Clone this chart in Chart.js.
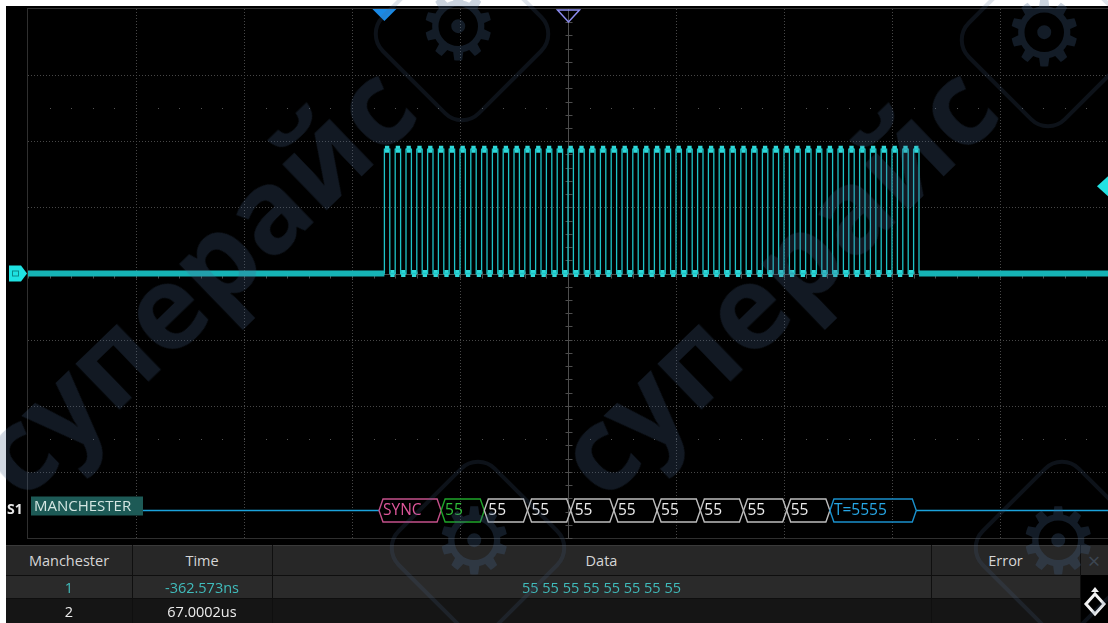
<!DOCTYPE html>
<html>
<head>
<meta charset="utf-8">
<script src="https://cdn.jsdelivr.net/npm/chart.js@4.4.1/dist/chart.umd.min.js"></script>
<style>
  html, body { margin:0; padding:0; background:#fff; width:1108px; height:623px; overflow:hidden;
    font-family:"Open Sans","Noto Sans","DejaVu Sans",sans-serif; }
  #scope { position:absolute; left:6px; top:6px; width:1102px; height:617px; background:#000; }
  #c { position:absolute; left:0; top:0; }
  .cell { position:absolute; box-sizing:border-box; font-size:14.5px; display:flex; align-items:center; justify-content:center; white-space:nowrap; }
  .wm { position:absolute; font-weight:700; color:rgba(70,100,140,0.25); white-space:nowrap; pointer-events:none;
        transform-origin:center center; line-height:1; }
  .gear { position:absolute; pointer-events:none; box-sizing:border-box; border:4px solid rgba(70,100,140,0.18);
          border-radius:26px; transform:rotate(45deg); }
  .gearg { position:absolute; pointer-events:none; color:rgba(70,100,140,0.28); line-height:1; font-family:"DejaVu Sans",sans-serif; }
</style>
</head>
<body>
<div id="scope"></div>
<canvas id="c" width="1108" height="623"></canvas>
<div id="table"></div>
<div id="wmLayer"></div>
<script>
// ---------------- data ----------------
const timeRangeNs = [-1000, 1000];          // 200 ns/div, 10 divisions
const voltRangeDiv = [-4, 4];               // 8 vertical divisions
const gridStepNs = 200;
const idleLevel = 0;
const highLevel = 1.88;
const burstStartNs = -340;
const bitCellNs = 10;
const burstBits = "1010101010" + "1010101010" + "1010101010" + "1010101010" + "1010101010" +
                  "1010101010" + "1010101010" + "1010101010" + "1010101010" + "101010101";
const triggerPosNs = -340;
const triggerLevelDiv = 1.32;
const channelOffsetDiv = 0;
const busLevelDiv = -3.57;

const frameLabels = ["SYNC", "55", "55", "55", "55", "55", "55", "55", "55", "55", "T=5555"];
const frameKinds  = ["sync", "first", "data", "data", "data", "data", "data", "data", "data", "data", "crc"];
const frameEdgesNs = [-350, -235, -155, -75, 5, 85, 165, 245, 325, 405, 485, 645];

const tableHeaders = ["Manchester", "Time", "Data", "Error"];
const tableRows = [
  ["1", "-362.573ns", "55 55 55 55 55 55 55 55", ""],
  ["2", "67.0002us", "", ""]
];

// ---------------- derived datasets ----------------
const burstEndNs = burstStartNs + burstBits.length * bitCellNs;
const idlePoints = [
  {x: timeRangeNs[0], y: idleLevel}, {x: burstStartNs, y: idleLevel},
  {x: (burstStartNs + burstEndNs) / 2, y: null},
  {x: burstEndNs, y: idleLevel}, {x: timeRangeNs[1], y: idleLevel}
];
const edgePoints = [{x: burstStartNs, y: idleLevel}];
const plateauPoints = [];
for (let i = 0; i < burstBits.length; i++) {
  const lv = burstBits[i] === "1" ? highLevel : idleLevel;
  const a = burstStartNs + i * bitCellNs, b = a + bitCellNs;
  edgePoints.push({x: a, y: lv}, {x: b, y: lv});
  plateauPoints.push({x: a + 1, y: lv}, {x: b - 1, y: lv}, {x: b, y: null});
}
edgePoints.push({x: burstEndNs, y: idleLevel});

// ---------------- plugins ----------------
function dotted(ctx, x0, y0, x1, y1, step, color) {
  ctx.fillStyle = color;
  if (x0 === x1) { for (let y = y0; y <= y1; y += step) ctx.fillRect(Math.round(x0), Math.round(y), 1, 1); }
  else { for (let x = x0; x <= x1; x += step) ctx.fillRect(Math.round(x), Math.round(y0), 1, 1); }
}

const gridPlugin = {
  id: "scopeGrid",
  beforeDatasetsDraw(chart) {
    const {ctx, chartArea: a, scales: {x, y}} = chart;
    ctx.save();
    ctx.strokeStyle = "#2f2f2f"; ctx.lineWidth = 1;
    ctx.strokeRect(a.left - 0.5, a.top - 0.5, a.right - a.left + 1, a.bottom - a.top + 1);
    for (let t = timeRangeNs[0] + gridStepNs; t < timeRangeNs[1]; t += gridStepNs) {
      if (t === 0) continue;
      dotted(ctx, x.getPixelForValue(t), a.top, x.getPixelForValue(t), a.bottom, 3, "#474747");
    }
    for (let v = voltRangeDiv[0] + 1; v < voltRangeDiv[1]; v++) {
      if (v === 0) continue;
      dotted(ctx, a.left, y.getPixelForValue(v), a.right, y.getPixelForValue(v), 3, "#474747");
    }
    [2.5, -2.5].forEach(v => {
      const py = y.getPixelForValue(v);
      ctx.fillStyle = "#555";
      for (let t = timeRangeNs[0] + gridStepNs / 5; t < timeRangeNs[1]; t += gridStepNs / 5)
        ctx.fillRect(Math.round(x.getPixelForValue(t)), Math.round(py), 1, 1);
    });
    const cx = Math.round(x.getPixelForValue(0)) + 0.5, cy = Math.round(y.getPixelForValue(0)) + 0.5;
    ctx.strokeStyle = "#4d4d4d"; ctx.lineWidth = 1;
    ctx.beginPath(); ctx.moveTo(cx, a.top); ctx.lineTo(cx, a.bottom); ctx.stroke();
    ctx.beginPath(); ctx.moveTo(a.left, cy); ctx.lineTo(a.right, cy); ctx.stroke();
    ctx.beginPath();
    for (let v = voltRangeDiv[0]; v <= voltRangeDiv[1]; v += 0.2) {
      const py = Math.round(y.getPixelForValue(v)) + 0.5;
      ctx.moveTo(cx - 3, py); ctx.lineTo(cx + 4, py);
    }
    for (let t = timeRangeNs[0]; t <= timeRangeNs[1]; t += gridStepNs / 5) {
      const px = Math.round(x.getPixelForValue(t)) + 0.5;
      ctx.moveTo(px, cy - 3); ctx.lineTo(px, cy + 4);
    }
    ctx.stroke();
    ctx.restore();
  },
  afterDatasetsDraw(chart) {
    const {ctx, chartArea: a, scales: {x, y}} = chart;
    ctx.save();
    // ---- decode bus ----
    const by = Math.round(y.getPixelForValue(busLevelDiv)) + 0.5;
    const h = 11.5, s = 4;
    ctx.strokeStyle = "#1ba3dc"; ctx.lineWidth = 1.5;
    ctx.beginPath(); ctx.moveTo(143, by); ctx.lineTo(x.getPixelForValue(frameEdgesNs[0]), by);
    ctx.moveTo(x.getPixelForValue(frameEdgesNs[frameEdgesNs.length - 1]), by); ctx.lineTo(a.right, by); ctx.stroke();
    const strokeC = {sync: "#c4508a", first: "#1fa52a", data: "#bdbdbd", crc: "#1a90cc"};
    const textC = {sync: "#e0579c", first: "#2fbf3a", data: "#ececec", crc: "#27a7e6"};
    ctx.font = '15.5px "Open Sans","Noto Sans",sans-serif';
    ctx.textBaseline = "middle"; ctx.textAlign = "left";
    frameLabels.forEach((lab, i) => {
      const x0 = x.getPixelForValue(frameEdgesNs[i]), x1 = x.getPixelForValue(frameEdgesNs[i + 1]);
      ctx.beginPath();
      ctx.moveTo(x0, by); ctx.lineTo(x0 + s, by - h); ctx.lineTo(x1 - s, by - h); ctx.lineTo(x1, by);
      ctx.lineTo(x1 - s, by + h); ctx.lineTo(x0 + s, by + h); ctx.closePath();
      ctx.strokeStyle = strokeC[frameKinds[i]]; ctx.lineWidth = 1.4; ctx.stroke();
      ctx.fillStyle = textC[frameKinds[i]];
      ctx.fillText(lab, x0 + 4, by);
    });
    // S1 label
    ctx.fillStyle = "#1d5a56"; ctx.fillRect(31, by - 14, 112, 19);
    ctx.fillStyle = "#d3e6e2"; ctx.font = '15px "Open Sans","Noto Sans",sans-serif';
    ctx.fillText("MANCHESTER", 34, by - 4);
    ctx.fillStyle = "#e6e6e6"; ctx.font = 'bold 14px "Open Sans","Noto Sans",sans-serif';
    ctx.fillText("S1", 7, by);
    // ---- trigger position marker (filled) ----
    const tp = x.getPixelForValue(triggerPosNs);
    ctx.fillStyle = "#1a8ae6";
    ctx.beginPath(); ctx.moveTo(tp - 12, a.top); ctx.lineTo(tp + 12, a.top); ctx.lineTo(tp, a.top + 12); ctx.closePath(); ctx.fill();
    // ---- center marker (hollow) ----
    const c0 = x.getPixelForValue(0) + 0.5;
    ctx.strokeStyle = "#8c8cf0"; ctx.lineWidth = 1.5;
    ctx.beginPath(); ctx.moveTo(c0 - 11, a.top + 1); ctx.lineTo(c0 + 11, a.top + 1); ctx.lineTo(c0, a.top + 13); ctx.closePath(); ctx.stroke();
    // ---- trigger level marker ----
    const tl = y.getPixelForValue(triggerLevelDiv);
    ctx.fillStyle = "#22e2e2";
    ctx.beginPath(); ctx.moveTo(a.right - 11, tl); ctx.lineTo(a.right, tl - 10); ctx.lineTo(a.right, tl + 10); ctx.closePath(); ctx.fill();
    // ---- channel offset marker ----
    const co = y.getPixelForValue(channelOffsetDiv);
    ctx.fillStyle = "#1fe2e2";
    ctx.beginPath(); ctx.moveTo(9, co - 8); ctx.lineTo(21, co - 8); ctx.lineTo(a.left - 1, co); ctx.lineTo(21, co + 8); ctx.lineTo(9, co + 8); ctx.closePath(); ctx.fill();
    ctx.strokeStyle = "#0a8a8a"; ctx.lineWidth = 1;
    ctx.strokeRect(12.5, co - 2.5, 6, 5);
    ctx.restore();
  }
};

new Chart(document.getElementById("c"), {
  type: "line",
  data: {
    datasets: [
      {data: idlePoints, borderColor: "#16b3b5", borderWidth: 6, spanGaps: false},
      {data: idlePoints, borderColor: "#52ecea", borderWidth: 2.5, spanGaps: false},
      {data: edgePoints, borderColor: "#1ec3c6", borderWidth: 1.3},
      {data: plateauPoints, borderColor: "#2fd9d9", borderWidth: 7, spanGaps: false, borderCapStyle: "butt"},
      {data: plateauPoints, borderColor: "#9ef7f4", borderWidth: 2, spanGaps: false}
    ]
  },
  options: {
    responsive: false, animation: false, events: [],
    devicePixelRatio: 1,
    layout: {padding: {left: 28, top: 9, right: 0, bottom: 85}},
    elements: {point: {radius: 0}, line: {tension: 0}},
    plugins: {legend: {display: false}, tooltip: {enabled: false}},
    scales: {
      x: {type: "linear", min: timeRangeNs[0], max: timeRangeNs[1], display: false},
      y: {type: "linear", min: voltRangeDiv[0], max: voltRangeDiv[1], display: false}
    }
  },
  plugins: [gridPlugin]
});

// ---------------- decode table (HTML) ----------------
(function buildTable() {
  const t = document.getElementById("table");
  const cols = [6, 132, 272, 931, 1080];
  const rowsY = [[545, 575, "#272727", "#d6d6d6"], [576, 598, "#2a2a2a", "#40bcbc"], [599, 623, "#151515", "#ececec"]];
  let html = "";
  rowsY.forEach(([y0, y1, bg]) => {
    html += `<div class="cell" style="left:6px;top:${y0}px;width:1074px;height:${y1 - y0}px;background:${bg}"></div>`;
  });
  html += `<div class="cell" style="left:6px;top:545px;width:1102px;height:1px;background:#3a3a3a"></div>`;
  html += `<div class="cell" style="left:1080px;top:545px;width:28px;height:30px;background:#272727;color:#3c4652;font-size:22px">×</div>`;
  html += `<div class="cell" style="left:1080px;top:576px;width:28px;height:47px;background:#000;border-left:1px solid #333"></div>`;
  [575, 598].forEach(yy => html += `<div class="cell" style="left:6px;top:${yy}px;width:1074px;height:1px;background:#0e0e0e"></div>`);
  cols.slice(1).forEach(xx => html += `<div class="cell" style="left:${xx}px;top:545px;width:1px;height:78px;background:#0f0f0f"></div>`);
  const all = [tableHeaders].concat(tableRows);
  all.forEach((row, r) => {
    const [y0, y1, , fg] = rowsY[r];
    row.forEach((txt, c) => {
      if (!txt) return;
      html += `<div class="cell" style="left:${cols[c]}px;top:${y0}px;width:${cols[c + 1] - cols[c]}px;height:${y1 - y0}px;color:${fg}">${txt}</div>`;
    });
  });
  html += `<svg style="position:absolute;left:1082px;top:583px" width="26" height="34" viewBox="0 0 26 34">
    <path d="M13 4 L9 9 L17 9 Z" fill="#f2f2f2"/>
    <path d="M13 11 L22 21 L13 31 L4 21 Z" fill="none" stroke="#f2f2f2" stroke-width="3"/></svg>`;
  t.innerHTML = html;
})();

// ---------------- watermark ----------------
(function watermark() {
  const w = document.getElementById("wmLayer");
  let html = "";
  [[180, 292], [762, 292]].forEach(([cx, cy]) => {
    html += `<div class="wm" style="left:${cx - 260}px;top:${cy - 60}px;width:520px;height:120px;font-size:116px;text-align:center;transform:rotate(-44deg)">суперайс</div>`;
  });
  [[462, 34], [1048, 40], [478, 548], [1062, 548]].forEach(([cx, cy]) => {
    html += `<div class="gear" style="left:${cx - 70}px;top:${cy - 70}px;width:140px;height:140px"></div>`;
    html += `<div class="gearg" style="left:${cx - 45}px;top:${cy - 52}px;font-size:92px">⚙</div>`;
  });
  w.innerHTML = html;
})();
</script>
</body>
</html>
